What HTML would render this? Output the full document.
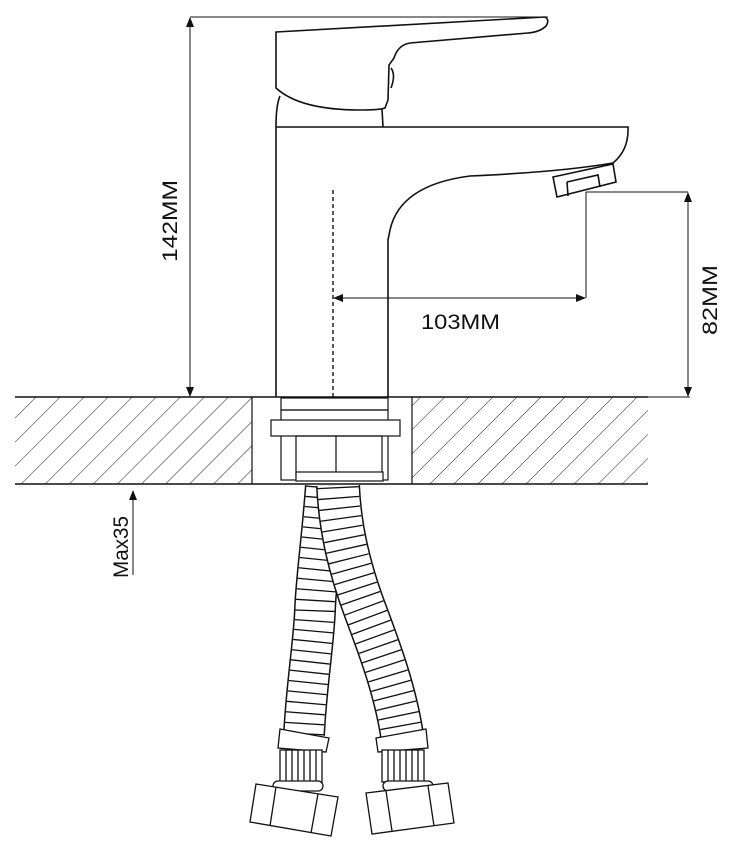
<!DOCTYPE html>
<html><head><style>html,body{margin:0;padding:0;background:#fff}svg{display:block}</style></head>
<body>
<svg width="732" height="852" viewBox="0 0 732 852" xmlns="http://www.w3.org/2000/svg" font-family="Liberation Sans, sans-serif">
<defs>
<pattern id="h" width="17" height="17" patternUnits="userSpaceOnUse" patternTransform="rotate(45)">
<line x1="0" y1="0" x2="0" y2="17" stroke="#222" stroke-width="1"/>
</pattern>
<marker id="a" markerWidth="10" markerHeight="10" refX="9" refY="5" orient="auto" markerUnits="userSpaceOnUse"><path d="M0,1 L10,5 L0,9 z" fill="#111"/></marker>
</defs>
<g fill="none" stroke="#111" stroke-width="1.6">
<line x1="190" y1="17" x2="548" y2="17" stroke-width="1"/>
<line x1="190" y1="397" x2="190" y2="18" stroke-width="1" marker-end="url(#a)"/>
<line x1="190" y1="30" x2="190" y2="396" stroke-width="1" marker-end="url(#a)"/>
<path d="M276,32 L545,17 Q550,20 546,26 Q540,32 528,33 L410,43 Q398,45 394,58 L389,65 L388,100 L385,108 Q380,110 360,110 Q300,110 276,88 Z" fill="#fff"/>
<path d="M391,68 Q396,75 391,88"/>
<path d="M280,96 Q276,105 276,127"/>
<line x1="382" y1="109" x2="383" y2="127"/>
<path d="M276,127 L628,127 Q629,150 613,163 Q560,172 470,176 Q400,185 390,230 L388,240 L388,397 M276,127 L276,397"/>
<path d="M553,177 L613,164 L616,182 L557,197 Z"/>
<path d="M567,182 L598,175 L600,187 M568,196 L567,182"/>
<line x1="333" y1="190" x2="333" y2="397" stroke-width="1.4" stroke-dasharray="4,3"/>
<line x1="586" y1="192" x2="586" y2="298" stroke-width="1"/>
<line x1="586" y1="192" x2="688" y2="192" stroke-width="1"/>
<line x1="440" y1="298" x2="334" y2="298" stroke-width="1" marker-end="url(#a)"/>
<line x1="440" y1="298" x2="585" y2="298" stroke-width="1" marker-end="url(#a)"/>
<line x1="688" y1="300" x2="688" y2="193" stroke-width="1" marker-end="url(#a)"/>
<line x1="688" y1="300" x2="688" y2="396" stroke-width="1" marker-end="url(#a)"/>
<line x1="640" y1="397" x2="690" y2="397" stroke-width="1"/>
<rect x="15" y="397" width="237" height="87" fill="url(#h)" stroke="none"/>
<rect x="412" y="397" width="236" height="87" fill="url(#h)" stroke="none"/>
<line x1="252" y1="397" x2="252" y2="484" stroke-width="1.2"/>
<line x1="412" y1="397" x2="412" y2="484" stroke-width="1.2"/>
<line x1="15" y1="397" x2="648" y2="397"/>
<rect x="281" y="398" width="107" height="12" stroke-width="1.2"/>
<rect x="281" y="410" width="107" height="70" stroke-width="1.2"/>
<rect x="271" y="420" width="129" height="16" fill="#fff" stroke-width="1.2"/>
<rect x="296" y="436" width="86" height="40" stroke-width="1.2"/>
<line x1="336" y1="436" x2="336" y2="472" stroke-width="1.2"/>
<rect x="296" y="472" width="87" height="9" fill="#fff" stroke-width="1.2"/>
<line x1="133" y1="575" x2="133" y2="491" stroke-width="1" marker-end="url(#a)"/>
</g>
<g fill="none">
<path d="M326,485 C322,540 316,580 315,610 S306,690 304,735" stroke="#111" stroke-width="42"/>
<path d="M326,485 C322,540 316,580 315,610 S306,690 304,735" stroke="#fff" stroke-width="39"/>
<path d="M326,487 C322,540 316,580 315,610 S306,690 304,735" stroke="#111" stroke-width="39" stroke-dasharray="1.3,9"/>
<path d="M338,485 C340,530 350,570 365,610 S395,690 402,735" stroke="#111" stroke-width="44"/>
<path d="M338,485 C340,530 350,570 365,610 S395,690 402,735" stroke="#fff" stroke-width="41"/>
<path d="M338,487 C340,530 350,570 365,610 S395,690 402,735" stroke="#111" stroke-width="41" stroke-dasharray="1.3,9"/>
</g>
<rect x="280" y="482" width="110" height="3" fill="#fff"/>
<line x1="15" y1="484" x2="648" y2="484" stroke="#111" stroke-width="1.6"/>
<g fill="#fff" stroke="#111" stroke-width="1.3">
<path d="M280,729 L329,738 L326,752 L278,748 Z"/>
<rect x="280" y="750" width="42" height="32"/>
<path d="M286,750 V782 M292,750 V782 M298,750 V782 M304,750 V782 M310,750 V782 M316,750 V782" fill="none"/>
<rect x="273" y="781" width="50" height="10" rx="5"/>
<path d="M256,784 L338,797 L331,836 L250,822 Z"/>
<line x1="276" y1="787" x2="270" y2="826"/>
<line x1="318" y1="794" x2="311" y2="833"/>
<path d="M376,738 L426,729 L428,748 L378,752 Z"/>
<rect x="382" y="750" width="42" height="32"/>
<path d="M388,750 V782 M394,750 V782 M400,750 V782 M406,750 V782 M412,750 V782 M418,750 V782" fill="none"/>
<rect x="383" y="781" width="50" height="10" rx="5"/>
<path d="M366,793 L448,783 L454,823 L372,834 Z"/>
<line x1="386" y1="791" x2="392" y2="831"/>
<line x1="428" y1="786" x2="434" y2="826"/>
</g>
<g fill="#111" font-size="21">
<text x="-262" y="0" transform="translate(177,0) rotate(-90)" textLength="82" lengthAdjust="spacingAndGlyphs">142MM</text>
<text x="421" y="329" textLength="79" lengthAdjust="spacingAndGlyphs">103MM</text>
<text x="-335" y="0" transform="translate(717,0) rotate(-90)" textLength="70" lengthAdjust="spacingAndGlyphs">82MM</text>
<text x="-578" y="0" transform="translate(128,0) rotate(-90)" textLength="62" lengthAdjust="spacingAndGlyphs">Max35</text>
</g>
</svg>
</body></html>
